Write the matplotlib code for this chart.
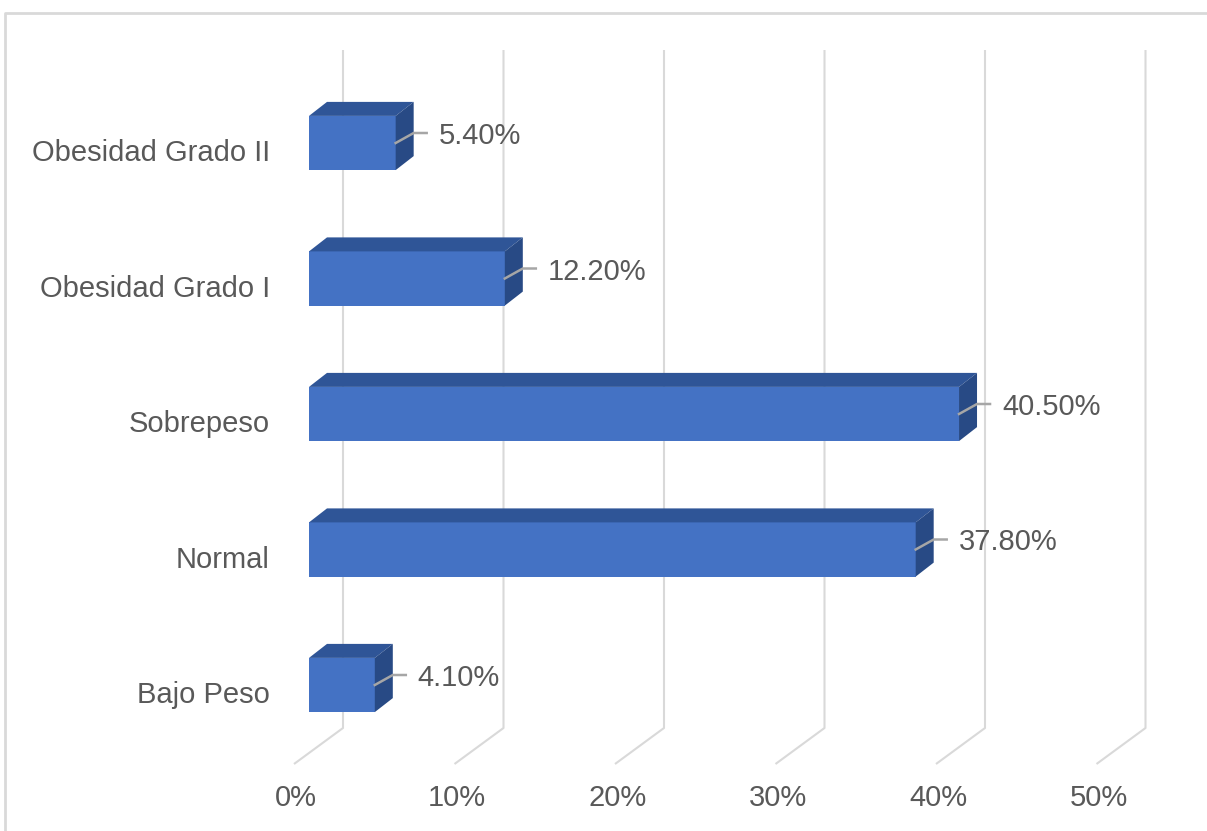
import matplotlib.pyplot as plt
from matplotlib.patches import Polygon

# IMC categories, bottom to top
categories = ["Bajo Peso", "Normal", "Sobrepeso", "Obesidad Grado I", "Obesidad Grado II"]
values = [4.10, 37.80, 40.50, 12.20, 5.40]
value_labels = ["4.10%", "37.80%", "40.50%", "12.20%", "5.40%"]
ticks = [0, 10, 20, 30, 40, 50]
tick_labels = ["0%", "10%", "20%", "30%", "40%", "50%"]

FRONT = "#4472C4"
TOP = "#2F5597"
SIDE = "#284A85"
GRID = "#D9D9D9"
TEXT = "#595959"

plt.rcParams["font.family"] = ["Liberation Sans", "DejaVu Sans"]
FS = 21

W, H = 1207, 831
fig = plt.figure(figsize=(W / 100, H / 100), dpi=100)
ax = fig.add_axes([0, 0, 1, 1])

# pixel mapping: x -> 16.05 px per percent, bar front at 0; y -> 135.5 px per category
PX_X, PX_Y = 16.05, 135.5
X0, Y0 = 309, 685
ax.set_xlim(-X0 / PX_X, (W - X0) / PX_X)
ax.set_ylim((Y0 - H) / PX_Y, Y0 / PX_Y)
ax.axis("off")

# 3-D offsets (data units)
bar_dx, bar_dy = 18 / PX_X, 14 / PX_Y
wall_dx = 34 / PX_X
floor_dx = -15 / PX_X
wall_top, wall_bot, floor_y = (Y0 - 50) / PX_Y, (Y0 - 728) / PX_Y, (Y0 - 764) / PX_Y

# back wall gridlines and floor diagonals
for t in ticks:
    ax.plot([t + wall_dx, t + wall_dx, t + floor_dx], [wall_top, wall_bot, floor_y],
            color=GRID, lw=1.5, zorder=1, solid_capstyle="butt")

for t, lab in zip(ticks, tick_labels):
    ax.text(t - 0.8, (Y0 - 798) / PX_Y, lab, ha="center", va="center",
            fontsize=FS, color=TEXT)

h = 0.4
ys = list(range(len(categories)))
ax.barh(ys, values, height=h, color=FRONT, zorder=3)
for y, v in zip(ys, values):
    top = [(0, y + h / 2), (v, y + h / 2), (v + bar_dx, y + h / 2 + bar_dy), (bar_dx, y + h / 2 + bar_dy)]
    side = [(v, y - h / 2), (v, y + h / 2), (v + bar_dx, y + h / 2 + bar_dy), (v + bar_dx, y - h / 2 + bar_dy)]
    ax.add_patch(Polygon(top, closed=True, facecolor=TOP, edgecolor="none", zorder=3))
    ax.add_patch(Polygon(side, closed=True, facecolor=SIDE, edgecolor="none", zorder=3))

# data labels with leader lines
for y, v, lab in zip(ys, values, value_labels):
    ax.plot([v, v + bar_dx, v + 31 / PX_X], [y, y + 10 / PX_Y, y + 10 / PX_Y],
            color="#A6A6A6", lw=1.8, zorder=4)
    ax.text(v + 43 / PX_X, y + 7 / PX_Y, lab, ha="left", va="center",
            fontsize=FS, color=TEXT, zorder=5)

# category labels
for y, c in zip(ys, categories):
    ax.text(-39 / PX_X, y - 10 / PX_Y, c, ha="right", va="center",
            fontsize=FS, color=TEXT)

# chart area border
ax.plot([5 / PX_X - X0 / PX_X] * 2 + [(W + 5 - X0) / PX_X],
        [(Y0 - H - 5) / PX_Y, (Y0 - 13) / PX_Y, (Y0 - 13) / PX_Y],
        color=GRID, lw=2, zorder=1)

fig.savefig("out.png", dpi=100)
